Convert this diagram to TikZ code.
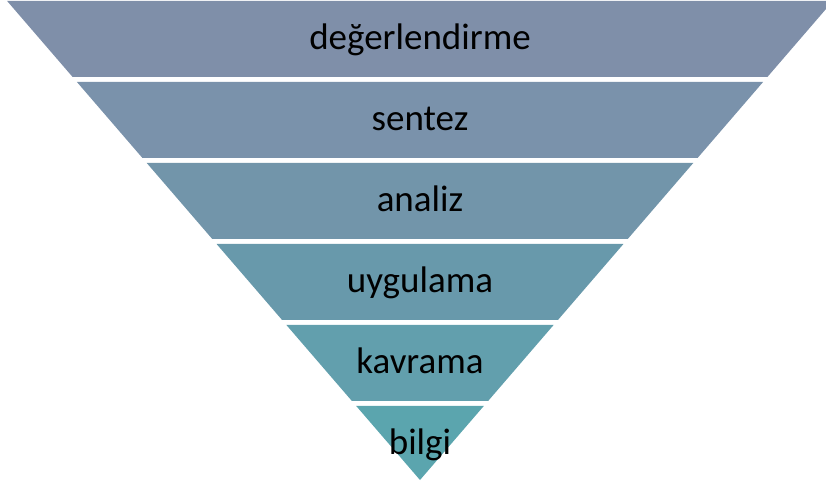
\documentclass[tikz,border=0pt]{standalone}
\usepackage{fontspec}
\setmainfont{Carlito}
\definecolor{bandA}{RGB}{127,143,169}
\definecolor{bandB}{RGB}{122,146,171}
\definecolor{bandC}{RGB}{114,149,170}
\definecolor{bandD}{RGB}{104,153,171}
\definecolor{bandE}{RGB}{98,159,173}
\definecolor{bandF}{RGB}{91,165,174}
\tikzset{bandtext/.style={anchor=base,inner sep=0pt,font=\fontsize{37}{42}\selectfont,text=black}}
\begin{document}
\begin{tikzpicture}[x=1pt,y=1pt]
\useasboundingbox (0,0) rectangle (826,484);
\clip (0,0) rectangle (826,484);
\foreach \n/\t/\b/\c/\txt in {1/1/77/bandA/değerlendirme,2/82/158/bandB/sentez,3/163/239/bandC/analiz,4/244/320/bandD/uygulama,5/325/401/bandE/kavrama,6/406/480/bandF/bilgi}{
  \pgfmathsetmacro{\tl}{420-(480-\t)*0.862}
  \pgfmathsetmacro{\tr}{420+(480-\t)*0.862}
  \pgfmathsetmacro{\bl}{420-(480-\b)*0.862}
  \pgfmathsetmacro{\br}{420+(480-\b)*0.862}
  \pgfmathsetmacro{\ty}{484-\t}
  \pgfmathsetmacro{\by}{484-\b}
  \pgfmathsetmacro{\my}{484-(\t+\b)/2-11}
  \fill[\c] (\tl,\ty) -- (\tr,\ty) -- (\br,\by) -- (\bl,\by) -- cycle;
  \node[bandtext] (label\n) at (420,\my) {\txt};
}
\end{tikzpicture}
\end{document}
